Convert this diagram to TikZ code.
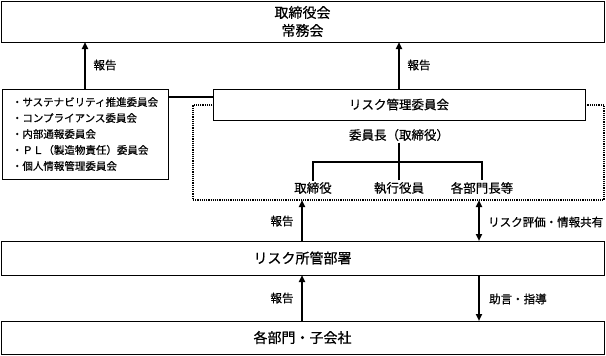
\documentclass[tikz,border=0pt]{standalone}
\usepackage{fontspec}
\setmainfont{Noto Sans CJK JP}[FakeBold=0.6]
\usetikzlibrary{arrows.meta}

\begin{document}
\begin{tikzpicture}[x=1pt,y=-1pt,
    box/.style={draw,line width=1pt,fill=white,inner sep=0pt,outer sep=0pt},
    lbl/.style={font=\fontsize{11.5}{14}\selectfont,inner sep=1pt},
    member/.style={font=\fontsize{12.5}{15}\selectfont,inner sep=1.5pt},
    arr/.style={line width=1.8pt,-{Triangle[length=7pt,width=6pt]}},
    dbl/.style={line width=1.8pt,{Triangle[length=7pt,width=6pt]}-{Triangle[length=7pt,width=6pt]}},
    link/.style={line width=2pt}]

\useasboundingbox (0,0) rectangle (606,356);

% Board
\node[box,minimum width=603pt,minimum height=41pt,align=center,
      font=\fontsize{14}{18}\selectfont] (board) at (302.5,21.5) {取締役会\\常務会};

% Other committees
\node[box,minimum width=166pt,minimum height=90pt,align=left,
      font=\fontsize{10.5}{16}\selectfont] (comm) at (85,134)
  {・サステナビリティ推進委員会\\・コンプライアンス委員会\\・内部通報委員会\\・ＰＬ（製造物責任）委員会\\・個人情報管理委員会};

% Risk management area
\node[draw,densely dotted,line width=1.2pt,minimum width=411pt,minimum height=95pt,
      inner sep=0pt,outer sep=0pt] (area) at (398.5,152.5) {};
\node[box,minimum width=372pt,minimum height=31pt,
      font=\fontsize{12.5}{15}\selectfont] (riskc) at (399,104.5) {リスク管理委員会};
\node[member] (chair) at (399,135) {委員長（取締役）};
\node[member] (m1) at (313,188) {取締役};
\node[member] (m2) at (399,188) {執行役員};
\node[member] (m3) at (482,188) {各部門長等};
\coordinate (fork) at (399,162);
\draw[link] (chair) -- (fork);
\draw[link] (m1.north) |- (m3.north |- fork) -- (m3.north);
\draw[link] (m2.north) -- (fork);

% Lower boxes
\node[box,minimum width=603pt,minimum height=34pt,
      font=\fontsize{14}{18}\selectfont] (riskdept) at (302.5,258) {リスク所管部署};
\node[box,minimum width=603pt,minimum height=33pt,
      font=\fontsize{14}{18}\selectfont] (depts) at (302.5,337.5) {各部門・子会社};

% Reports to board
\draw[arr] (comm.north) -- (comm.north |- board.south);
\node[lbl] (rep1) at (105,65) {報告};
\draw[arr] (riskc.north) -- (riskc.north |- board.south);
\node[lbl] (rep2) at (419,65) {報告};
\draw[link] (comm.east |- 0,97) -- (riskc.west |- 0,97);

% Between risk area and risk department
\draw[arr] (riskdept.north -| 302,0) -- (area.south -| 302,0);
\node[lbl] (rep3) at (282,221) {報告};
\draw[dbl] (area.south -| 479,0) -- (riskdept.north -| 479,0);
\node[lbl,anchor=west] (share) at (487,222) {リスク評価・情報共有};

% Between risk department and divisions
\draw[arr] (depts.north -| 302,0) -- (riskdept.south -| 302,0);
\node[lbl] (rep4) at (282,298) {報告};
\draw[arr] (riskdept.south -| 479,0) -- (depts.north -| 479,0);
\node[lbl,anchor=west] (advice) at (488,299) {助言・指導};

\end{tikzpicture}
\end{document}
